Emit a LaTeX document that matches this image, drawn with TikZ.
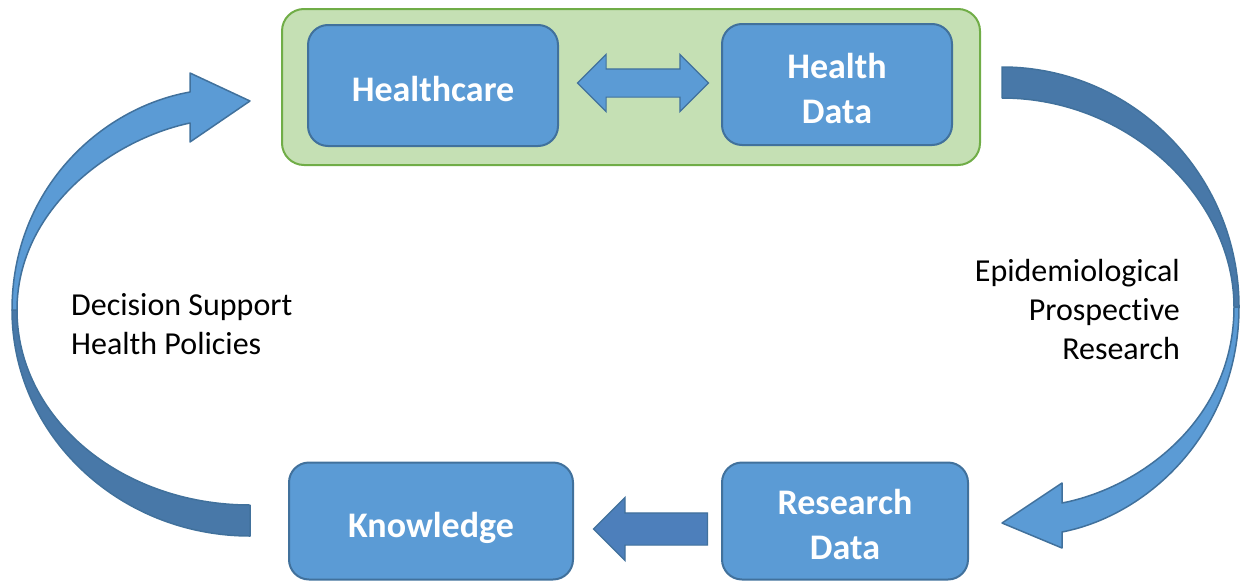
\documentclass[tikz,border=0pt]{standalone}
\usepackage{fontspec}
\setmainfont[Ligatures=NoCommon]{Carlito}
\usetikzlibrary{shapes.arrows,calc}
\definecolor{boxblue}{HTML}{5B9BD5}
\definecolor{boxline}{HTML}{41719C}
\definecolor{panelfill}{HTML}{C5E0B4}
\definecolor{panelline}{HTML}{70AD47}
\definecolor{arrowdark}{HTML}{4D7FBB}
\definecolor{curvedark}{HTML}{4878A8}
\newcommand{\padtop}{\rule{0pt}{33pt}}
\tikzset{
  stage/.style={draw=boxline,fill=boxblue,line width=2pt,rounded corners=20pt,
    text=white,align=center,font=\bfseries\fontsize{36}{45}\selectfont},
  panel/.style={draw=panelline,fill=panelfill,line width=2pt,rounded corners=22pt},
  link/.style={draw=boxline,line width=1.2pt},
  band/.style={draw=boxline,line width=1.5pt,line join=round},
  note/.style={inner sep=0pt,font=\fontsize{32}{39}\selectfont}
}
\begin{document}
\begin{tikzpicture}[x=1pt,y=-1pt]
\useasboundingbox (0,0) rectangle (1240,581);
% top group
\node[panel,minimum width=698pt,minimum height=156pt] (loop) at (631,87) {};
\node[stage,minimum width=250pt,minimum height=121pt] (care) at (433,85.5) {\padtop Healthcare};
\node[stage,minimum width=230pt,minimum height=121pt] (hdata) at (837,84.5) {\padtop Health\\Data};
% bottom row
\node[stage,text depth=0pt,minimum width=284pt,minimum height=117pt] (know) at (431,521) {\padtop Knowledge};
\node[stage,minimum width=246pt,minimum height=117pt] (rdata) at (845,521) {\padtop Research\\Data};
% straight arrows
\node[link,fill=boxblue,double arrow,inner sep=13.5pt,double arrow head extend=14.5pt,
  double arrow tip angle=90,minimum height=131pt,minimum width=56pt]
  (swap) at ($(care.east)!0.5!(hdata.west)+(3,-2)$) {};
\node[link,fill=arrowdark,single arrow,shape border rotate=180,inner sep=15.5pt,
  single arrow head extend=15.5pt,single arrow tip angle=90,minimum height=114pt,
  minimum width=62pt] (pass) at ($(know.east)!0.5!(rdata.west)+(11,8)$) {};
% left curved arrow
\draw[band,fill=curvedark] (12,310) .. controls (12,435) and (119,536) .. (250,536)
  -- (250,505) .. controls (121,505) and (17,418) .. (17,310) -- cycle;
\draw[band,fill=boxblue] (12,310) .. controls (12,190) and (100,108) .. (190,92)
  -- (190,73) -- (250,101) -- (190,142) -- (190,123)
  .. controls (110,140) and (17,210) .. (17,310) -- cycle;
% right curved arrow
\draw[band,fill=curvedark] (1002,67) .. controls (1133,67) and (1239,175) .. (1239,307)
  -- (1234,307) .. controls (1234,200) and (1130,98) .. (1002,98) -- cycle;
\draw[band,fill=boxblue] (1239,307) .. controls (1239,430) and (1150,515) .. (1062,532)
  -- (1062,548) -- (1002,523) -- (1062,483) -- (1062,503)
  .. controls (1140,488) and (1234,420) .. (1234,307) -- cycle;
% labels
\node[note,anchor=west,align=left] (policy) at (71,324) {Decision Support\\Health Policies};
\node[note,anchor=east,align=right] (method) at (1180,310) {Epidemiological\\Prospective\\Research};
\end{tikzpicture}
\end{document}
